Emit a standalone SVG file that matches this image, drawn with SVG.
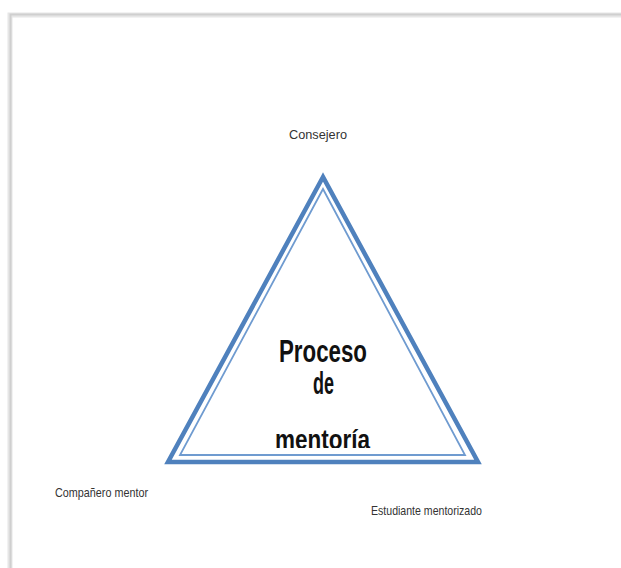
<svg xmlns="http://www.w3.org/2000/svg" width="621" height="568" viewBox="0 0 621 568">
<style>
.lbl{font-family:"Liberation Sans",Arial,sans-serif;font-size:13px;fill:#333;}
.big{font-family:"Liberation Sans",Arial,sans-serif;font-size:31px;font-weight:bold;fill:#111;}
.frame{fill:none;stroke:#cfcfcf;stroke-width:2;}
.shadow{fill:none;stroke:#e6e6e6;stroke-width:5;}
.outer{fill:#fff;stroke:#4f81bd;stroke-width:4.5;stroke-linejoin:miter;}
.inner{fill:none;stroke:#6f9bd0;stroke-width:1.8;}
</style>
<defs>
<clipPath id="cut"><rect x="0" y="0" width="621" height="448"/></clipPath>
</defs>
<rect width="621" height="568" fill="#fff"/>
<g id="frame">
<path class="shadow" d="M10,568 V15 H621"/>
<path class="frame" d="M10.5,568 V14.5 H621"/>
</g>
<g id="triangle">
<polygon class="outer" points="323,177 168,462 478,462"/>
<polygon class="inner" points="323,189 180,455 465,455"/>
</g>
<g id="center">
<text class="big" x="279" y="362" textLength="88" lengthAdjust="spacingAndGlyphs">Proceso</text>
<text class="big" x="313" y="394" textLength="21" lengthAdjust="spacingAndGlyphs">de</text>
<text class="big" x="275" y="449" textLength="95" lengthAdjust="spacingAndGlyphs" clip-path="url(#cut)" style="font-size:27px">mentoría</text>
</g>
<g id="consejero"><text class="lbl" x="289" y="139" textLength="58" lengthAdjust="spacingAndGlyphs">Consejero</text></g>
<g id="companero"><text class="lbl" x="55" y="497" textLength="93" lengthAdjust="spacingAndGlyphs">Compañero mentor</text></g>
<g id="estudiante"><text class="lbl" x="371" y="515" textLength="111" lengthAdjust="spacingAndGlyphs">Estudiante mentorizado</text></g>
<g id="connectors"></g>
</svg>
